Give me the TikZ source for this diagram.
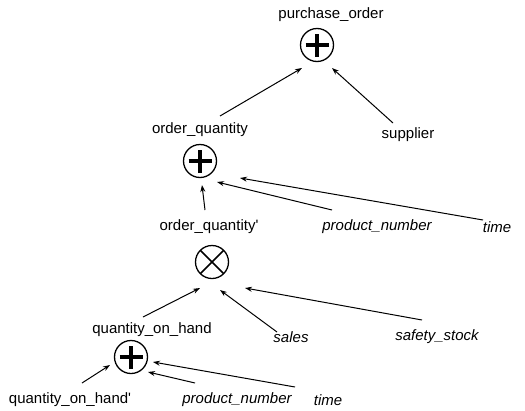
\documentclass[tikz,border=0pt]{standalone}
\usepackage{fontspec}
\setmainfont{Liberation Sans}
\usetikzlibrary{arrows.meta}
\begin{document}
\begin{tikzpicture}[x=1pt,y=-1pt,
  lbl/.style={font=\fontsize{15}{17}\selectfont, inner sep=1pt},
  it/.style={font=\fontsize{15}{17}\selectfont\itshape, inner sep=1pt},
  op/.style={circle, draw, line width=1.3pt, minimum size=33pt, inner sep=0pt},
  plusop/.style={op, path picture={
      \draw[line width=3.6pt]
        ([xshift=-11.5pt]path picture bounding box.center) -- ([xshift=11.5pt]path picture bounding box.center)
        ([yshift=-11.5pt]path picture bounding box.center) -- ([yshift=11.5pt]path picture bounding box.center);}},
  timesop/.style={op, path picture={
      \draw[line width=1.5pt]
        (path picture bounding box.north west) -- (path picture bounding box.south east)
        (path picture bounding box.north east) -- (path picture bounding box.south west);}},
  arr/.style={-{Stealth[length=7pt,width=5pt]}, line width=1pt},
]
\useasboundingbox (0,0) rectangle (525,410);

% operator symbols
\node[plusop]  (op1) at (317,45)  {};
\node[plusop]  (op2) at (200,161) {};
\node[timesop] (ot)  at (212,262) {};
\node[plusop]  (op3) at (131,357) {};

% labels
\node[lbl] (po)   at (331,15)  {purchase\_order};
\node[lbl] (oq)   at (200,130) {order\_quantity};
\node[lbl] (sup)  at (408,135) {supplier};
\node[lbl] (oqp)  at (209,227) {order\_quantity\textquotesingle};
\node[it]  (pn1)  at (377,227) {product\_number};
\node[it]  (t1)   at (497,227) {time};
\node[lbl] (qoh)  at (152,330) {quantity\_on\_hand};
\node[it]  (sal)  at (291,337) {sales};
\node[it]  (ss)   at (437,337) {safety\_stock};
\node[lbl] (qohp) at (70,400)  {quantity\_on\_hand\textquotesingle};
\node[it]  (pn2)  at (237,400) {product\_number};
\node[it]  (t2)   at (328,400) {time};

% inputs of purchase_order
\draw[arr] ([shift={(20,-14)}]oq.center)   -- ([shift={(-15,23)}]op1.center);
\draw[arr] ([shift={(-15,-12)}]sup.center) -- ([shift={(15,23)}]op1.center);

% inputs of order_quantity
\draw[arr] ([shift={(-4,-17)}]oqp.center)  -- ([shift={(2,24)}]op2.center);
\draw[arr] ([shift={(-45,-17)}]pn1.center) -- ([shift={(17,21)}]op2.center);
\draw[arr] ([shift={(-14,-7)}]t1.center)   -- ([shift={(40,17)}]op2.center);

% inputs of order_quantity'
\draw[arr] ([shift={(-9,-13)}]qoh.center)  -- ([shift={(-12,26)}]ot.center);
\draw[arr] ([shift={(-14,-5)}]sal.center)  -- ([shift={(8,28)}]ot.center);
\draw[arr] ([shift={(-15,-17)}]ss.center)  -- ([shift={(33,26)}]ot.center);

% inputs of quantity_on_hand
\draw[arr] ([shift={(12,-17)}]qohp.center) -- ([shift={(-21,8)}]op3.center);
\draw[arr] ([shift={(-42,-17)}]pn2.center) -- ([shift={(17,15)}]op3.center);
\draw[arr] ([shift={(-33,-13)}]t2.center)  -- ([shift={(22,5)}]op3.center);
\end{tikzpicture}
\end{document}
